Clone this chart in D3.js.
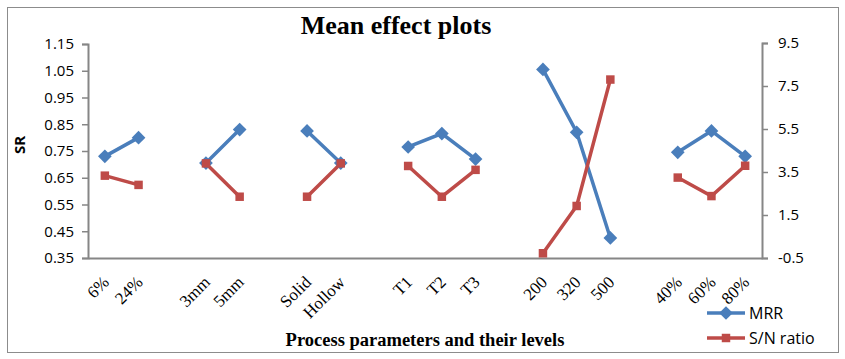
<!DOCTYPE html>
<html>
<head>
<meta charset="utf-8">
<script src="https://cdn.jsdelivr.net/npm/d3@7"></script>
<style>
  body { margin: 0; background: #fff; }
</style>
</head>
<body>
<div id="chart"></div>
<script>
// categories, blanks are gaps between parameter groups
const categories = ["6%", "24%", "", "3mm", "5mm", "", "Solid", "Hollow", "", "T1", "T2", "T3", "", "200", "320", "500", "", "40%", "60%", "80%"];
const mrr = [0.73, 0.80, null, 0.705, 0.83, null, 0.825, 0.705, null, 0.765, 0.815, 0.72, null, 1.055, 0.82, 0.425, null, 0.745, 0.825, 0.73];
const snRatio = [3.33, 2.9, null, 3.9, 2.35, null, 2.35, 3.9, null, 3.78, 2.35, 3.6, null, -0.28, 1.92, 7.8, null, 3.24, 2.38, 3.79];
const leftTicks = [0.35, 0.45, 0.55, 0.65, 0.75, 0.85, 0.95, 1.05, 1.15];
const rightTicks = [-0.5, 1.5, 3.5, 5.5, 7.5, 9.5];

var W = 845, H = 359;
var margin = {top: 43, right: 83, bottom: 101, left: 88};

var svg = d3.select("#chart").append("svg").attr("width", W).attr("height", H);

svg.append("rect").attr("x", 7.5).attr("y", 7.5).attr("width", 831).attr("height", 345)
    .attr("fill", "#fff").attr("stroke", "#8c8c8c").attr("stroke-width", 1);

var x = d3.scaleBand().domain(d3.range(categories.length)).range([margin.left, W - margin.right]);
var yL = d3.scaleLinear().domain([0.35, 1.15]).range([H - margin.bottom, margin.top + 1]);
var yR = d3.scaleLinear().domain([-0.5, 9.5]).range([H - margin.bottom, margin.top]);

var axisColor = "#868686";
// excel style: plain hyphen for negatives
var fmtR = function(d) { return d3.format(".1f")(d).replace("\u2212", "-"); };

// left axis
var gl = svg.append("g").attr("transform", "translate(" + margin.left + ",0)")
    .call(d3.axisLeft(yL).tickValues(leftTicks).tickFormat(d3.format(".2f")).tickSize(6).tickPadding(8));
gl.select(".domain").attr("stroke", axisColor).attr("stroke-width", 2);
gl.selectAll(".tick line").attr("stroke", axisColor).attr("stroke-width", 1.5);
gl.selectAll("text").style("font", "15px 'Open Sans', sans-serif").attr("fill", "#000");

// right axis
var gr = svg.append("g").attr("transform", "translate(" + (W - margin.right) + ",0)")
    .call(d3.axisRight(yR).tickValues(rightTicks).tickFormat(fmtR).tickSize(6).tickPadding(10));
gr.select(".domain").attr("stroke", axisColor).attr("stroke-width", 2);
gr.selectAll(".tick line").attr("stroke", axisColor).attr("stroke-width", 1.5);
gr.selectAll("text").style("font", "15px 'Open Sans', sans-serif").attr("fill", "#000");

// bottom axis
var gb = svg.append("g").attr("transform", "translate(0," + (H - margin.bottom) + ")")
    .call(d3.axisBottom(x).tickSize(0).tickFormat(function(i) { return categories[i]; }));
gb.select(".domain").attr("stroke", axisColor).attr("stroke-width", 2);
gb.selectAll("text")
    .style("font", "17px 'Liberation Serif', 'Times New Roman', serif")
    .attr("fill", "#000")
    .style("text-anchor", "end")
    .attr("transform", "translate(1,21) rotate(-45)")
    .attr("dy", "0.35em").attr("y", 0);

// series
var lineL = d3.line().defined(function(d) { return d != null; })
    .x(function(d, i) { return x(i) + x.bandwidth() / 2; }).y(function(d) { return yL(d); });
var lineR = d3.line().defined(function(d) { return d != null; })
    .x(function(d, i) { return x(i) + x.bandwidth() / 2; }).y(function(d) { return yR(d); });

var blue = "#4a7ebb", red = "#be4b48";

svg.append("path").datum(mrr).attr("d", lineL).attr("fill", "none")
    .attr("stroke", blue).attr("stroke-width", 3.5);
svg.append("path").datum(snRatio).attr("d", lineR).attr("fill", "none")
    .attr("stroke", red).attr("stroke-width", 3.5);

var diamond = d3.symbol().type(d3.symbolDiamond2).size(120);
var square = d3.symbol().type(d3.symbolSquare).size(72);

svg.selectAll(".mrr-pt").data(mrr.map(function(v, i) { return {v: v, i: i}; }).filter(function(d) { return d.v != null; }))
    .enter().append("path").attr("class", "mrr-pt")
    .attr("d", diamond)
    .attr("transform", function(d) { return "translate(" + (x(d.i) + x.bandwidth() / 2) + "," + yL(d.v) + ")"; })
    .attr("fill", blue);

svg.selectAll(".sn-pt").data(snRatio.map(function(v, i) { return {v: v, i: i}; }).filter(function(d) { return d.v != null; }))
    .enter().append("path").attr("class", "sn-pt")
    .attr("d", square)
    .attr("transform", function(d) { return "translate(" + (x(d.i) + x.bandwidth() / 2) + "," + yR(d.v) + ")"; })
    .attr("fill", red);

// titles
svg.append("text").attr("x", 396).attr("y", 34).attr("text-anchor", "middle")
    .style("font", "bold 26px 'Liberation Serif', 'Times New Roman', serif").text("Mean effect plots");

svg.append("text").attr("x", 425).attr("y", 346).attr("text-anchor", "middle")
    .style("font", "bold 18.5px 'Liberation Serif', 'Times New Roman', serif").text("Process parameters and their levels");

svg.append("text").attr("transform", "translate(25,145) rotate(-90)").attr("text-anchor", "middle")
    .style("font", "bold 15px 'Open Sans', sans-serif").text("SR");

// legend
var legend = [{name: "MRR", color: blue, sym: diamond, y: 313}, {name: "S/N ratio", color: red, sym: square, y: 338}];
var lg = svg.selectAll(".lg").data(legend).enter().append("g").attr("class", "lg");
lg.append("line").attr("x1", 707).attr("x2", 745).attr("y1", function(d) { return d.y; }).attr("y2", function(d) { return d.y; })
    .attr("stroke", function(d) { return d.color; }).attr("stroke-width", 3.5);
lg.append("path").attr("d", function(d) { return d.sym(); })
    .attr("transform", function(d) { return "translate(726," + d.y + ")"; })
    .attr("fill", function(d) { return d.color; });
lg.append("text").attr("x", 749).attr("y", function(d) { return d.y; }).attr("dy", "0.35em")
    .style("font", "16px 'Open Sans', sans-serif").text(function(d) { return d.name; });
</script>
</body>
</html>
